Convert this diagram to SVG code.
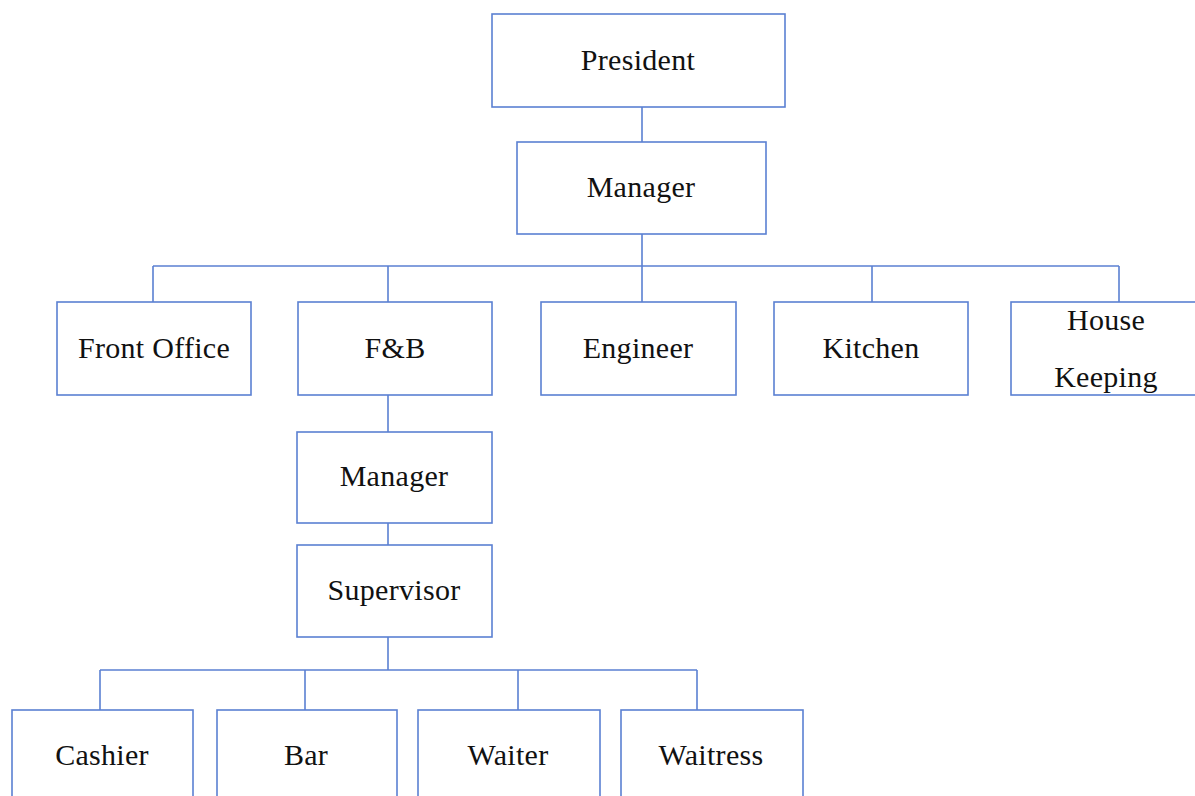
<svg xmlns="http://www.w3.org/2000/svg" width="1195" height="796" viewBox="0 0 1195 796">
<style>
.box{fill:#fff;stroke:#5b80d2;stroke-width:1.6}
.ln{fill:none;stroke:#5b80d2;stroke-width:1.6}
text{font-family:"Liberation Serif","Times New Roman",serif;font-size:30px;letter-spacing:0.3px;fill:#111;text-anchor:middle}
</style>
<rect width="1195" height="796" fill="#fff"/>
<g id="connectors">
<path class="ln" d="M642 107V142M642 234V302M153 266H1119M153 266V302M388 266V302M872 266V302M1119 266V302"/>
<path class="ln" d="M388 395V432M388 523V545M388 637V670M100 670H697M100 670V710M305 670V710M518 670V710M697 670V710"/>
</g>
<g id="president"><rect class="box" x="492" y="14" width="293" height="93"/><text x="638" y="70">President</text></g>
<g id="manager"><rect class="box" x="517" y="142" width="249" height="92"/><text x="641" y="197">Manager</text></g>
<g id="front-office"><rect class="box" x="57" y="302" width="194" height="93"/><text x="154" y="358">Front Office</text></g>
<g id="fnb"><rect class="box" x="298" y="302" width="194" height="93"/><text x="395" y="358">F&amp;B</text></g>
<g id="engineer"><rect class="box" x="541" y="302" width="195" height="93"/><text x="638" y="358">Engineer</text></g>
<g id="kitchen"><rect class="box" x="774" y="302" width="194" height="93"/><text x="871" y="358">Kitchen</text></g>
<g id="house-keeping"><rect class="box" x="1011" y="302" width="194" height="93"/><text x="1106" y="330">House</text><text x="1106" y="387">Keeping</text></g>
<g id="fnb-manager"><rect class="box" x="297" y="432" width="195" height="91"/><text x="394" y="486">Manager</text></g>
<g id="supervisor"><rect class="box" x="297" y="545" width="195" height="92"/><text x="394" y="600">Supervisor</text></g>
<g id="cashier"><rect class="box" x="12" y="710" width="181" height="100"/><text x="102" y="765">Cashier</text></g>
<g id="bar"><rect class="box" x="217" y="710" width="180" height="100"/><text x="306" y="765">Bar</text></g>
<g id="waiter"><rect class="box" x="418" y="710" width="182" height="100"/><text x="508" y="765">Waiter</text></g>
<g id="waitress"><rect class="box" x="621" y="710" width="182" height="100"/><text x="711" y="765">Waitress</text></g>
</svg>
